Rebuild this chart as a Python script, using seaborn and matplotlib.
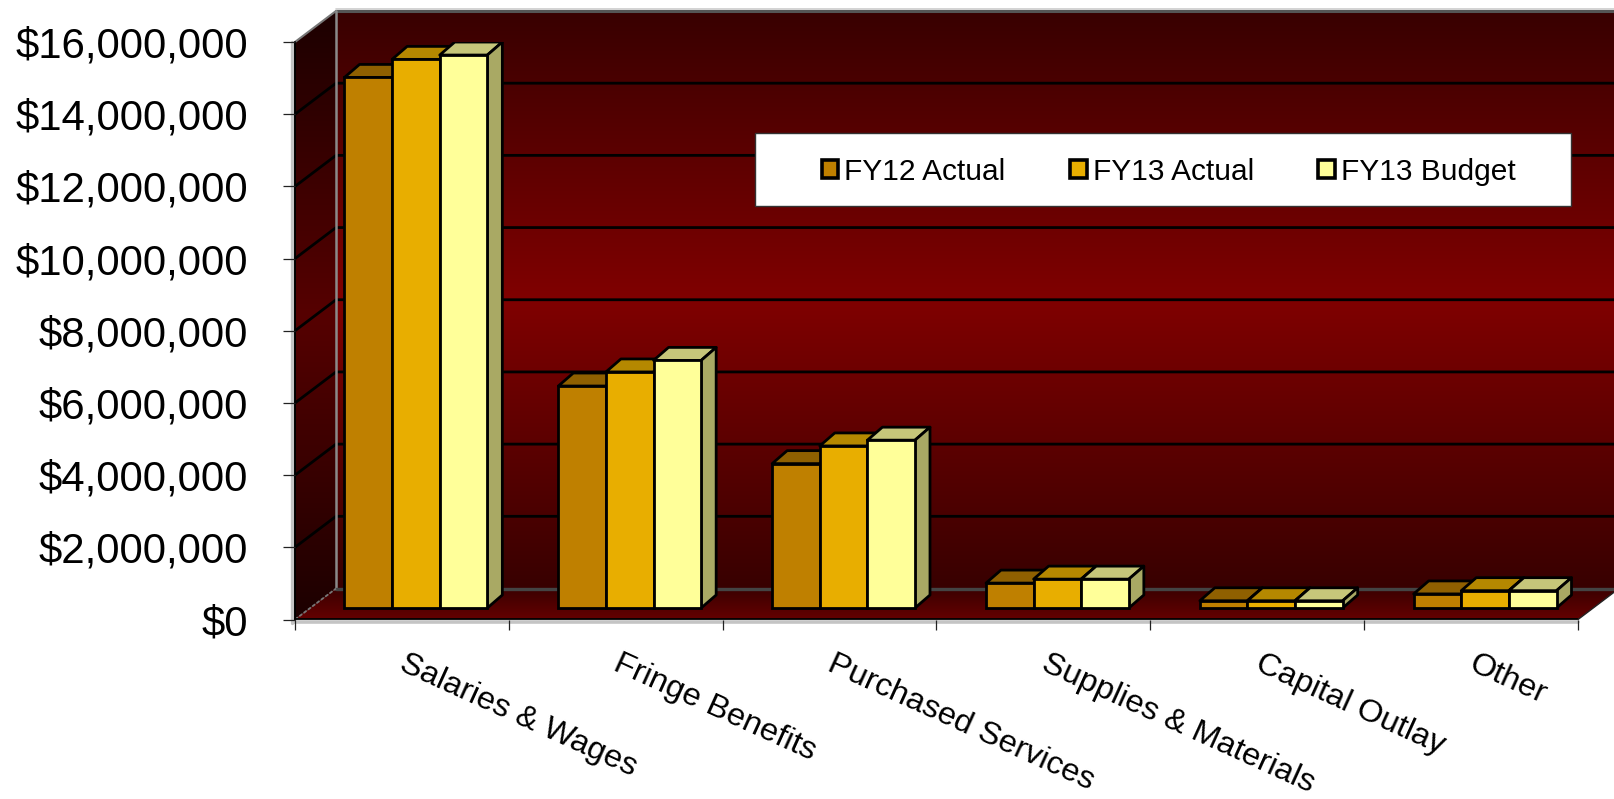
import numpy as np
import pandas as pd
import matplotlib
matplotlib.use("Agg")
import matplotlib.pyplot as plt
import seaborn as sns
from matplotlib.colors import LinearSegmentedColormap
from matplotlib.patches import Patch, Polygon, Rectangle
from matplotlib.transforms import Affine2D, IdentityTransform

# Expenditure by category, in dollars
categories = ["Salaries & Wages", "Fringe Benefits", "Purchased Services",
              "Supplies & Materials", "Capital Outlay", "Other"]
fy12_actual = [14700000, 6150000, 4000000, 690000, 200000, 390000]
fy13_actual = [15200000, 6540000, 4490000, 800000, 200000, 480000]
fy13_budget = [15320000, 6860000, 4650000, 800000, 200000, 480000]
series_names = ["FY12 Actual", "FY13 Actual", "FY13 Budget"]
y_ticks = [0, 2000000, 4000000, 6000000, 8000000, 10000000, 12000000, 14000000, 16000000]

front_colors = ["#BF8000", "#E8AE00", "#FFFF99"]
top_colors = ["#8F6000", "#B58800", "#C6C67A"]
side_colors = ["#8F6000", "#B58800", "#A9A964"]

W, H = 1615, 799
LEFT, RIGHT, TOP, BOTTOM = 295.0, 1578.0, 42.0, 619.5
DEPTH_X, DEPTH_Y = 41.0, 31.0
BAR_SHIFT = (14.0, 11.5)
BAR_DEPTH = (15.0, 13.0)
EDGE_LW = 2.0

df = pd.DataFrame({
    "category": categories * 3,
    "series": np.repeat(series_names, len(categories)),
    "value": fy12_actual + fy13_actual + fy13_budget,
})

sns.set_theme(style="white")
plt.rcParams["font.family"] = ["Liberation Sans", "DejaVu Sans"]

fig = plt.figure(figsize=(W / 100, H / 100), dpi=100, facecolor="white")

# Box walls, laid out in pixel coordinates behind the plotting axes
bg = fig.add_axes([0, 0, 1, 1], zorder=0)
bg.set_xlim(0, W)
bg.set_ylim(H, 0)
bg.axis("off")


def gradient_face(points, stops, y0, y1):
    cmap = LinearSegmentedColormap.from_list("face", stops)
    img = bg.imshow(np.linspace(0, 1, 256)[:, None], cmap=cmap, aspect="auto",
                    extent=(0, W, y1, y0), zorder=1, interpolation="bilinear")
    clip = Polygon(points, closed=True, transform=bg.transData, facecolor="none", edgecolor="none")
    bg.add_patch(clip)
    img.set_clip_path(clip)


back_top = TOP - DEPTH_Y
back_bottom = BOTTOM - DEPTH_Y
wall_x = LEFT + DEPTH_X
gradient_face([(wall_x, back_top), (W + 5, back_top), (W + 5, back_bottom), (wall_x, back_bottom)],
              ["#380000", "#800000", "#380000"], back_top, back_bottom)
gradient_face([(LEFT, TOP), (wall_x, back_top), (wall_x, back_bottom), (LEFT, BOTTOM)],
              ["#1C0000", "#560000", "#1C0000"], back_top, BOTTOM)
gradient_face([(wall_x, back_bottom), (RIGHT + DEPTH_X, back_bottom), (RIGHT, BOTTOM), (LEFT, BOTTOM)],
              ["#3A0000", "#640000"], back_bottom, BOTTOM)
bg.set_xlim(0, W)
bg.set_ylim(H, 0)

# Gridlines run along the side wall and across the back wall
px_per_dollar = (BOTTOM - TOP) / max(y_ticks)
for tick in y_ticks[1:-1]:
    y = BOTTOM - tick * px_per_dollar
    bg.plot([LEFT, wall_x, W + 5], [y, y - DEPTH_Y, y - DEPTH_Y], color="black", lw=2.0, zorder=2,
            solid_joinstyle="miter")

# Frame edges of the box
bg.plot([wall_x, W + 5], [back_top, back_top], color="#555555", lw=2.2, zorder=3)
bg.plot([wall_x, W + 5], [back_top - 2.5, back_top - 2.5], color="#CCCCCC", lw=1.2, zorder=3)
bg.plot([LEFT, wall_x], [TOP, back_top], color="#777777", lw=1.5, zorder=3)
bg.plot([wall_x, wall_x], [back_top, back_bottom], color="#8A8A8A", lw=1.8, zorder=3)
bg.plot([wall_x, W + 5], [back_bottom, back_bottom], color="#444444", lw=2.4, zorder=3)
bg.plot([LEFT, wall_x], [BOTTOM, back_bottom], color="#777777", lw=1.3, ls=(0, (2, 1)), zorder=3)
bg.plot([LEFT - 2.5, LEFT - 2.5], [TOP, BOTTOM + 3], color="#C4C4C4", lw=2.4, zorder=3)
bg.plot([LEFT - 1.5, RIGHT], [BOTTOM + 2.5, BOTTOM + 2.5], color="#C4C4C4", lw=2.6, zorder=3)
bg.plot([LEFT, RIGHT], [BOTTOM - 0.5, BOTTOM - 0.5], color="black", lw=1.3, zorder=4)
bg.plot([RIGHT, RIGHT + DEPTH_X], [BOTTOM, back_bottom], color="#222222", lw=1.0, zorder=4)
bg.plot([LEFT, LEFT], [TOP, BOTTOM], color="black", lw=1.4, zorder=4)

# Plotting axes aligned with the front plane of the box
ax = fig.add_axes([LEFT / W, 1 - BOTTOM / H, (RIGHT - LEFT) / W, (BOTTOM - TOP) / H], zorder=2)
ax.patch.set_alpha(0)
sns.barplot(data=df, x="category", y="value", hue="series", order=categories,
            hue_order=series_names, palette=front_colors, saturation=1,
            width=0.668, gap=0, edgecolor="black", linewidth=EDGE_LW, ax=ax, legend=False)
ax.set_xlim(-0.5, len(categories) - 0.5)
ax.set_ylim(0, max(y_ticks))
ax.set_xlabel("")
ax.set_ylabel("")
sns.despine(ax=ax, left=True, bottom=True, right=True, top=True)

# Push the bars into the box and give them tops and sides
shift = ax.transData + Affine2D().translate(*BAR_SHIFT)
for index, container in enumerate(ax.containers):
    for bar in container:
        bar.set_transform(shift)
        bar.set_clip_on(False)
        bar.set_zorder(5)
        x0, y0 = shift.transform((bar.get_x(), 0))
        x1, y1 = shift.transform((bar.get_x() + bar.get_width(), bar.get_height()))
        dx, dy = BAR_DEPTH
        top = Polygon([(x0, y1), (x1, y1), (x1 + dx, y1 + dy), (x0 + dx, y1 + dy)], closed=True,
                      transform=IdentityTransform(), facecolor=top_colors[index],
                      edgecolor="black", lw=EDGE_LW, zorder=3, joinstyle="round")
        side = Polygon([(x1, y0), (x1 + dx, y0 + dy), (x1 + dx, y1 + dy), (x1, y1)], closed=True,
                       transform=IdentityTransform(), facecolor=side_colors[index],
                       edgecolor="black", lw=EDGE_LW, zorder=3, joinstyle="round")
        ax.add_artist(top)
        ax.add_artist(side)

# Axis ticks and labels
ax.set_yticks(y_ticks)
ax.set_yticklabels(["${:,.0f}".format(t) for t in y_ticks], fontsize=30.2, color="black")
ax.tick_params(axis="y", which="major", left=True, length=8.6, width=0.9, color="#222222", pad=25)
ax.set_xticks(range(len(categories)))
ax.set_xticklabels(categories, fontsize=23.4, color="black", rotation=-24.5,
                   ha="left", va="top", rotation_mode="anchor")
ax.set_xticks(np.arange(len(categories) + 1) - 0.5, minor=True)
ax.tick_params(axis="x", which="minor", bottom=True, length=7.5, width=0.9, color="#222222")
ax.tick_params(axis="x", which="major", bottom=False, length=0, pad=21)
for label in ax.get_xticklabels():
    label.set_transform(label.get_transform() + Affine2D().translate(6, 0))

# Legend panel
panel = Rectangle((755, 133), 816, 73, facecolor="white", edgecolor="#333333", lw=1.0, zorder=6)
bg.add_patch(panel)
handles = [Patch(facecolor=c, edgecolor="black", lw=2.6) for c in front_colors]
legend = ax.legend(handles, series_names, ncol=3, frameon=False, fontsize=21.5,
                   handlelength=0.55, handleheight=0.55, handletextpad=0.2,
                   columnspacing=2.16, borderpad=0, borderaxespad=0,
                   loc="center left", bbox_transform=IdentityTransform(),
                   bbox_to_anchor=(822, H - 171.5))
for text in legend.get_texts():
    text.set_color("black")

fig.savefig("out.png", dpi=100, facecolor="white")
